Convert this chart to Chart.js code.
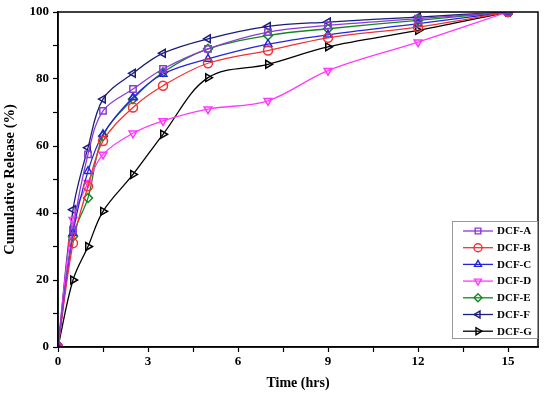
<!DOCTYPE html>
<html lang="en">
<head>
    <meta charset="UTF-8">
    <title>Cumulative Release</title>
    <style>
        html, body {
            margin: 0;
            padding: 0;
            background-color: #fff;
        }
        .chart-box {
            width: 550px;
            height: 396px;
        }
    </style>
</head>
<body>

<div class="chart-box">
    <canvas id="releaseChart" width="550" height="396"></canvas>
</div>

<script src="https://cdn.jsdelivr.net/npm/chart.js"></script>
<script>
    // sampling times (hrs)
    const times = [0, 0.5, 1, 1.5, 2.5, 3.5, 5, 7, 9, 12, 15];

    // cumulative release (%) per formulation
    const dcfA = [0, 35, 57.5, 70.5, 77, 83, 89, 94, 96, 98, 100];
    const dcfB = [0, 31, 48, 61.5, 71.5, 78, 84.7, 88.5, 92.3, 95.5, 100];
    const dcfC = [0, 34, 52.5, 63.5, 74.5, 81.5, 86, 90.4, 93.2, 96.5, 100];
    const dcfD = [0, 38, 49, 57.5, 63.8, 67.5, 71, 73.5, 82.5, 91, 100];
    const dcfE = [0, 33, 44.5, 63, 74, 82, 89, 93, 95, 97.5, 100];
    const dcfF = [0, 41, 59.5, 74, 81.7, 87.7, 92, 95.7, 97, 98.5, 100];
    const dcfG = [0, 20, 30, 40.5, 51.5, 63.5, 80.4, 84.4, 89.6, 94.5, 100];

    const seriesNames = ['DCF-A', 'DCF-B', 'DCF-C', 'DCF-D', 'DCF-E', 'DCF-F', 'DCF-G'];

    const xTicks = [0, 3, 6, 9, 12, 15];
    const yTicks = [0, 20, 40, 60, 80, 100];

    const serif = "'Liberation Serif', 'Times New Roman', serif";

    function makeSet(label, values, color, style, rotation) {
        return {
            label: label,
            data: values.map((v, i) => ({ x: times[i], y: v })),
            borderColor: color,
            backgroundColor: 'rgba(0,0,0,0)',
            borderWidth: 1.3,
            pointStyle: style,
            rotation: rotation,
            pointRadius: 4.5,
            pointBorderWidth: 1.5,
            pointBackgroundColor: 'rgba(0,0,0,0)',
            tension: 0.35,
            fill: false
        };
    }

    const datasets = [
        makeSet(seriesNames[0], dcfA, '#8a3ad6', 'rect', 0),
        makeSet(seriesNames[1], dcfB, '#f03232', 'circle', 0),
        makeSet(seriesNames[2], dcfC, '#2424dc', 'triangle', 0),
        makeSet(seriesNames[3], dcfD, '#ff38ff', 'triangle', 180),
        makeSet(seriesNames[4], dcfE, '#14881e', 'rectRot', 0),
        makeSet(seriesNames[5], dcfF, '#1c1c7c', 'triangle', -90),
        makeSet(seriesNames[6], dcfG, '#000000', 'triangle', 90)
    ];

    // frame round the plot + legend box inside the plot area
    const framePlugin = {
        id: 'frame',
        afterDatasetsDraw(chart) {
            const ctx = chart.ctx;
            const a = chart.chartArea;
            ctx.save();
            ctx.strokeStyle = '#000';
            ctx.lineWidth = 1.5;
            ctx.strokeRect(a.left, a.top, a.right - a.left, a.bottom - a.top);

            // legend
            const bx = 452, by = 221, bw = 85, bh = 117;
            ctx.fillStyle = '#fff';
            ctx.fillRect(bx, by, bw, bh);
            ctx.strokeStyle = '#999';
            ctx.lineWidth = 1;
            ctx.strokeRect(bx + 0.5, by + 0.5, bw, bh);

            ctx.font = 'bold 11px ' + serif;
            ctx.textBaseline = 'middle';
            chart.data.datasets.forEach((ds, i) => {
                const y = by + 10 + i * 16.7;
                ctx.strokeStyle = ds.borderColor;
                ctx.lineWidth = 1.3;
                ctx.beginPath();
                ctx.moveTo(463, y);
                ctx.lineTo(493, y);
                ctx.stroke();
                ctx.fillStyle = 'rgba(0,0,0,0)';
                ctx.lineWidth = 1.4;
                Chart.helpers.drawPoint(ctx, {
                    pointStyle: ds.pointStyle,
                    rotation: ds.rotation,
                    radius: 4,
                    borderWidth: 1.4
                }, 478, y);
                ctx.fillStyle = '#000';
                ctx.fillText(ds.label, 497, y + 0.5);
            });
            ctx.restore();
        }
    };

    const config = {
        type: 'line',
        data: { datasets: datasets },
        options: {
            responsive: false,
            animation: false,
            layout: { padding: { top: 12, right: 12, left: 0, bottom: 0 } },
            plugins: {
                legend: { display: false },
                tooltip: { enabled: false }
            },
            scales: {
                x: {
                    type: 'linear',
                    min: 0,
                    max: 16,
                    afterFit(scale) { scale.height = 49; },
                    ticks: {
                        stepSize: 1.5,
                        includeBounds: false,
                        autoSkip: false,
                        maxRotation: 0,
                        padding: 2,
                        color: '#000',
                        font: { family: serif, size: 13, weight: 'bold' },
                        callback: v => xTicks.includes(v) ? String(v) : ''
                    },
                    grid: {
                        drawOnChartArea: false,
                        tickLength: 5,
                        tickColor: '#000',
                        tickWidth: 1.2
                    },
                    border: { color: '#000', width: 1.5 },
                    title: {
                        display: true,
                        text: 'Time (hrs)',
                        color: '#000',
                        font: { family: serif, size: 14, weight: 'bold' },
                        padding: { top: 0, bottom: 4 }
                    }
                },
                y: {
                    min: 0,
                    max: 100,
                    afterFit(scale) { scale.width = 58; },
                    ticks: {
                        stepSize: 10,
                        includeBounds: false,
                        autoSkip: false,
                        padding: 4,
                        color: '#000',
                        font: { family: serif, size: 13, weight: 'bold' },
                        callback: v => yTicks.includes(v) ? String(v) : ''
                    },
                    grid: {
                        drawOnChartArea: false,
                        tickLength: 5,
                        tickColor: '#000',
                        tickWidth: 1.2
                    },
                    border: { color: '#000', width: 1.5 },
                    title: {
                        display: true,
                        text: 'Cumulative Release (%)',
                        color: '#000',
                        font: { family: serif, size: 14.5, weight: 'bold' },
                        padding: { top: 2, bottom: 0 }
                    }
                }
            }
        },
        plugins: [framePlugin]
    };

    window.onload = function() {
        const ctx = document.getElementById('releaseChart').getContext('2d');
        window.releaseChart = new Chart(ctx, config);
    };
</script>

</body>
</html>
